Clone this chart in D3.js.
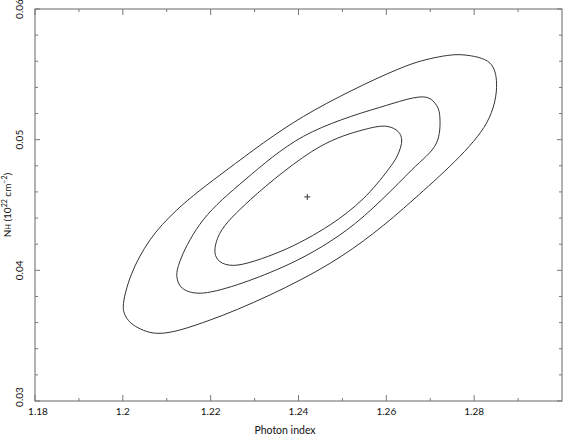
<!DOCTYPE html>
<html>
<head>
<meta charset="utf-8">
<script src="https://cdn.jsdelivr.net/npm/d3@7"></script>
<style>
  body { margin: 0; background: #fff; }
  svg text { font-family: Lato, "Liberation Sans", sans-serif; fill: #111; }
</style>
</head>
<body>
<div id="chart"></div>
<script>
// Confidence contours (photon index, NH)
const outerX = [1.2001, 1.2019, 1.2062, 1.2123, 1.2237, 1.2411, 1.2623, 1.2699, 1.2775, 1.2836, 1.2851, 1.2828, 1.2661, 1.2472, 1.2199, 1.2077, 1.2024, 1.2006];
const outerY = [0.03722, 0.03965, 0.04233, 0.04462, 0.04769, 0.05177, 0.05534, 0.05619, 0.05649, 0.05586, 0.05433, 0.05126, 0.04539, 0.04054, 0.03620, 0.03518, 0.03582, 0.03651];

const middleX = [1.2123, 1.2133, 1.2183, 1.2278, 1.2411, 1.2585, 1.2692, 1.2715, 1.2722, 1.2714, 1.2658, 1.2510, 1.2358, 1.2176, 1.2135];
const middleY = [0.03952, 0.04095, 0.04386, 0.04692, 0.05025, 0.05247, 0.05324, 0.05259, 0.05167, 0.04973, 0.04769, 0.04309, 0.04016, 0.03825, 0.03865];

const innerX = [1.2210, 1.2221, 1.2290, 1.2449, 1.2547, 1.2601, 1.2627, 1.2635, 1.2626, 1.2604, 1.2547, 1.2472, 1.2358, 1.2252, 1.2221];
const innerY = [0.04131, 0.04284, 0.04539, 0.04947, 0.05075, 0.05102, 0.05062, 0.04998, 0.04884, 0.04769, 0.04547, 0.04348, 0.04143, 0.04038, 0.04067];

const bestFit = [1.2420, 0.04562];

const xTicks = [1.18, 1.2, 1.22, 1.24, 1.26, 1.28];
const yTicks = [0.03, 0.04, 0.05, 0.06];

const width = 563, height = 436;
const margin = {top: 9, right: 1, bottom: 35, left: 35};

const svg = d3.select("#chart").append("svg")
    .attr("width", width)
    .attr("height", height);

const x = d3.scaleLinear().domain([1.18, 1.30]).range([margin.left, width - margin.right]);
const y = d3.scaleLinear().domain([0.03, 0.06]).range([height - margin.bottom, margin.top]);

// frame
svg.append("rect")
    .attr("x", x(1.18)).attr("y", y(0.06))
    .attr("width", x(1.30) - x(1.18))
    .attr("height", y(0.03) - y(0.06))
    .attr("fill", "none")
    .attr("stroke", "#666")
    .attr("stroke-width", 1);

// ticks, inward on all four sides
const xMinor = d3.range(1.19, 1.30, 0.02);
const yMinor = d3.range(0.03, 0.0601, 0.002).filter(v => Math.abs(v * 100 - Math.round(v * 100)) > 1e-6);

function xTick(v, len) {
    svg.append("line").attr("x1", x(v)).attr("x2", x(v))
        .attr("y1", y(0.03)).attr("y2", y(0.03) - len)
        .attr("stroke", "#777");
    svg.append("line").attr("x1", x(v)).attr("x2", x(v))
        .attr("y1", y(0.06)).attr("y2", y(0.06) + len)
        .attr("stroke", "#777");
}
function yTick(v, len) {
    svg.append("line").attr("y1", y(v)).attr("y2", y(v))
        .attr("x1", x(1.18)).attr("x2", x(1.18) + len)
        .attr("stroke", "#777");
    svg.append("line").attr("y1", y(v)).attr("y2", y(v))
        .attr("x1", x(1.30)).attr("x2", x(1.30) - len)
        .attr("stroke", "#777");
}
xTicks.forEach(v => xTick(v, 6));
xMinor.forEach(v => xTick(v, 3));
yTicks.forEach(v => yTick(v, 5));
yMinor.forEach(v => yTick(v, 3));

// tick labels
svg.selectAll(".xlab").data(xTicks).enter().append("text")
    .attr("class", "xlab")
    .attr("x", (d, i) => x(d) + (i === 0 ? 3 : 0))
    .attr("y", 415)
    .attr("text-anchor", "middle")
    .attr("font-size", 10)
    .text(d => d3.format("")(d));

svg.selectAll(".ylab").data(yTicks).enter().append("text")
    .attr("class", "ylab")
    .attr("transform", (d, i) => `translate(23,${y(d) - (i === 0 ? 4 : 0)}) rotate(-90)`)
    .attr("text-anchor", "middle")
    .attr("font-size", 10)
    .text(d => d3.format("")(d));

// axis titles
svg.append("text")
    .attr("x", 285).attr("y", 434)
    .attr("text-anchor", "middle")
    .attr("font-size", 10.5)
    .text("Photon index");

const yTitle = svg.append("text")
    .attr("transform", `translate(11,${(y(0.03) + y(0.06)) / 2}) rotate(-90)`)
    .attr("text-anchor", "middle")
    .attr("font-size", 10);
yTitle.append("tspan").text("N");
yTitle.append("tspan").attr("font-size", 7).text("H");
yTitle.append("tspan").text(" (10");
yTitle.append("tspan").attr("font-size", 7).attr("dy", -4).text("22");
yTitle.append("tspan").attr("dy", 4).text(" cm");
yTitle.append("tspan").attr("font-size", 7).attr("dy", -4).text("\u22122");
yTitle.append("tspan").attr("dy", 4).text(")");

// contours
const line = d3.line()
    .x(d => x(d[0]))
    .y(d => y(d[1]))
    .curve(d3.curveCatmullRomClosed.alpha(0.5));

const contours = [
    d3.zip(outerX, outerY),
    d3.zip(middleX, middleY),
    d3.zip(innerX, innerY)
];

svg.selectAll(".contour").data(contours).enter().append("path")
    .attr("class", "contour")
    .attr("d", line)
    .attr("fill", "none")
    .attr("stroke", "#333")
    .attr("stroke-width", 1);

// best fit marker
const bx = x(bestFit[0]), by = y(bestFit[1]);
svg.append("path")
    .attr("d", `M${bx - 3},${by}H${bx + 3}M${bx},${by - 3}V${by + 3}`)
    .attr("stroke", "#333")
    .attr("stroke-width", 1);
</script>
</body>
</html>
